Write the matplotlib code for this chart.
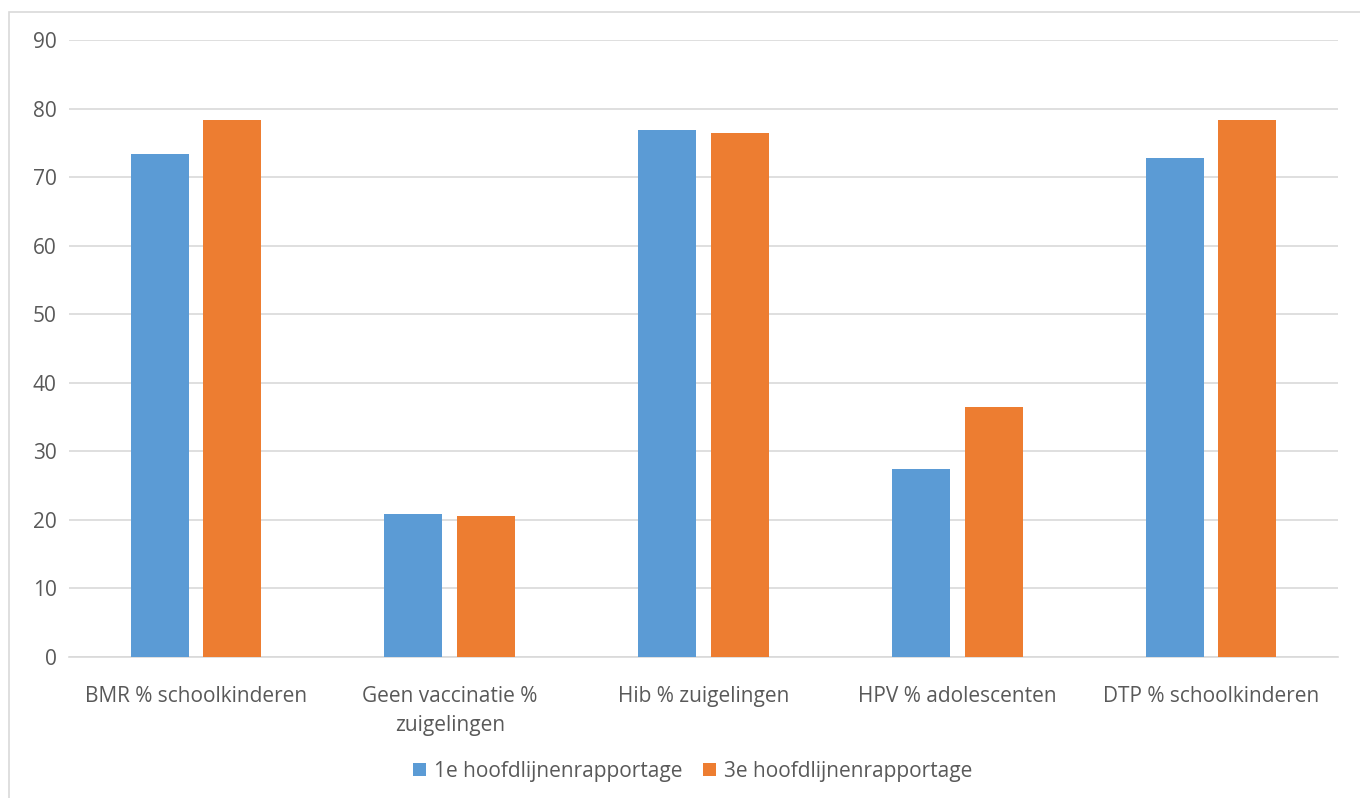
import matplotlib.pyplot as plt
import numpy as np
from matplotlib.patches import Rectangle

categories = [
    "BMR % schoolkinderen",
    "Geen vaccinatie %\nzuigelingen",
    "Hib % zuigelingen",
    "HPV % adolescenten",
    "DTP % schoolkinderen",
]
series_names = ["1e hoofdlijnenrapportage", "3e hoofdlijnenrapportage"]
first_report = [73.4, 20.9, 76.9, 27.4, 72.8]
third_report = [78.3, 20.6, 76.4, 36.5, 78.3]
y_ticks = [0, 10, 20, 30, 40, 50, 60, 70, 80, 90]

plt.rcParams["font.family"] = ["Open Sans", "DejaVu Sans"]
text_color = "#595959"
grid_color = "#d9d9d9"

fig = plt.figure(figsize=(13.6, 7.98), dpi=100)
fig.patches.append(
    Rectangle((9 / 1360, -0.1), 1.2, 1 - 12 / 798 + 0.1,
              transform=fig.transFigure, fill=False,
              edgecolor=grid_color, linewidth=1.2)
)
ax = fig.add_axes([69 / 1360, 1 - 657 / 798, 1269 / 1360, 617 / 798])

x = np.arange(len(categories))
width = 0.2286
offset = 0.143
ax.bar(x - offset, first_report, width, color="#5B9BD5", label=series_names[0], zorder=3)
ax.bar(x + offset, third_report, width, color="#ED7D31", label=series_names[1], zorder=3)

ax.set_xlim(-0.5, len(categories) - 0.5)
ax.set_ylim(0, 90)
ax.set_yticks(y_ticks)
ax.set_xticks(x, categories)
ax.tick_params(axis="both", length=0, colors=text_color, labelsize=15)
ax.tick_params(axis="y", pad=9)
ax.tick_params(axis="x", pad=21)
for label in ax.get_xticklabels():
    label.set_linespacing(1.5)
ax.grid(axis="y", color=grid_color, linewidth=1.2, zorder=0)
for side in ("left", "right", "top"):
    ax.spines[side].set_visible(False)
ax.spines["bottom"].set_color(grid_color)
ax.spines["bottom"].set_linewidth(1.2)

ax.legend(loc="center", bbox_to_anchor=(693 / 1360, 1 - 771 / 798),
          bbox_transform=fig.transFigure, ncol=2, frameon=False,
          fontsize=15, labelcolor=text_color, handlelength=0.6,
          handleheight=0.6, handletextpad=0.4, columnspacing=1.0)

fig.savefig("out.png", dpi=100)
